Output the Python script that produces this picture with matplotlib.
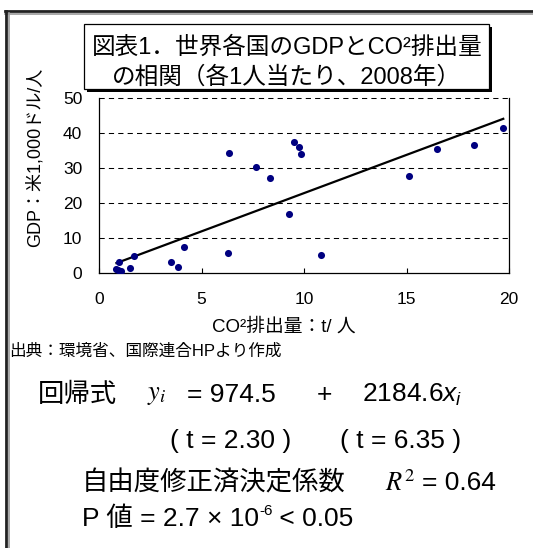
import matplotlib
matplotlib.use("Agg")
import matplotlib.pyplot as plt
from matplotlib.patches import Rectangle
from matplotlib.lines import Line2D

# CO2 emission (t per person) and GDP (1,000 USD per person)
co2 = [0.85, 0.98, 1.06, 0.95, 1.51, 1.69, 3.52, 3.84, 4.17, 6.30, 6.36,
       7.65, 8.35, 9.26, 9.52, 9.78, 9.85, 10.82, 15.13, 16.50, 18.31, 19.72]
gdp = [1.2, 3.0, 0.7, 0.8, 1.3, 4.95, 3.05, 1.7, 7.4, 5.6, 34.3,
       30.4, 27.1, 16.8, 37.5, 35.9, 34.0, 5.2, 27.7, 35.3, 36.6, 41.4]

# regression y = 974.5 + 2184.6x (USD), plotted in 1,000 USD
INTERCEPT = 0.9745
SLOPE = 2.1846

x_ticks = [0, 5, 10, 15, 20]
y_ticks = [0, 10, 20, 30, 40, 50]

W, H = 533, 548
FONTS = ["Liberation Sans", "Noto Sans CJK JP", "DejaVu Sans"]
plt.rcParams["font.family"] = FONTS
plt.rcParams["mathtext.fontset"] = "custom"
plt.rcParams["mathtext.rm"] = "Liberation Sans"
plt.rcParams["mathtext.it"] = "Liberation Sans:italic"


def px(x, y):
    # pixel position (from top-left) -> figure fraction
    return x / W, 1 - y / H


fig = plt.figure(figsize=(W / 100, H / 100), dpi=100)
fig.patch.set_facecolor("white")
renderer = fig.canvas.get_renderer()


def text_run(x, y, parts):
    # draw pieces one after another on a line, starting at pixel x
    for s, size, dy in parts:
        t = fig.text(*px(x, y + dy), s, ha="left", va="center", fontsize=size)
        x = t.get_window_extent(renderer).x1


# outer frame (top and left only)
for (x0, y0), (x1, y1), c, lw in [((5, 11), (533, 11), "#222222", 2.0),
                                  ((5, 13.5), (533, 13.5), "#9a9a9a", 1.2),
                                  ((6, 11), (6, 548), "#222222", 2.0),
                                  ((8.5, 13), (8.5, 548), "#9a9a9a", 1.2)]:
    fig.add_artist(Line2D([x0 / W, x1 / W], [1 - y0 / H, 1 - y1 / H],
                          color=c, lw=lw, transform=fig.transFigure))

# plot area
left, top, right, bottom = 99, 98, 509, 273
ax = fig.add_axes([left / W, 1 - bottom / H, (right - left) / W, (bottom - top) / H])
ax.set_xlim(0, 20)
ax.set_ylim(0, 50)
ax.set_xticks(x_ticks)
ax.set_yticks(y_ticks)
ax.tick_params(axis="x", direction="in", length=3.6, width=0.8, pad=14, labelsize=12.5)
ax.tick_params(axis="y", length=0, pad=12, labelsize=12.5)
ax.spines["top"].set_visible(False)
for s in ["left", "right", "bottom"]:
    ax.spines[s].set_linewidth(0.9)
for yv in y_ticks[1:]:
    ax.axhline(yv, color="black", lw=0.75, dashes=(5, 4), zorder=1, clip_on=False)

ax.scatter(co2, gdp, s=26, color="#000080", zorder=3, linewidths=0)
line_x = [min(co2), max(co2)]
line_y = [INTERCEPT + SLOPE * v for v in line_x]
ax.plot(line_x, line_y, color="black", lw=1.6, zorder=2)

# axis labels
fig.text(*px(35, 157), "GDP：米1,000ドル/人", rotation=90, ha="center", va="center",
         fontsize=13)
fig.text(*px(284, 327), "CO²排出量：t/ 人", ha="center", va="center", fontsize=13.5)
fig.text(*px(9, 351), "出典：環境省、国際連合HPより作成", ha="left", va="center",
         fontsize=12)

# title box with shadow
bx0, by0, bx1, by1 = 84, 24, 489, 89
fig.add_artist(Rectangle(px(bx0 + 3, by1 + 3), (bx1 - bx0) / W, (by1 - by0) / H,
                         transform=fig.transFigure, facecolor="black", edgecolor="none"))
fig.add_artist(Rectangle(px(bx0, by1), (bx1 - bx0) / W, (by1 - by0) / H,
                         transform=fig.transFigure, facecolor="white",
                         edgecolor="black", lw=0.9))
fig.text(*px(287, 48), "図表1．世界各国のGDPとCO²排出量", ha="center", va="center",
         fontsize=17)
fig.text(*px(287, 77), "の相関（各1人当たり、2008年）", ha="center", va="center",
         fontsize=17)

# regression results
fs = 19
fig.text(*px(38, 395), "回帰式", ha="left", va="center", fontsize=fs)
fig.text(*px(147, 395), "$y_i$", ha="left", va="center", fontsize=fs, math_fontfamily="stix")
fig.text(*px(187, 395), "= 974.5", ha="left", va="center", fontsize=fs)
fig.text(*px(317, 395), "+", ha="left", va="center", fontsize=fs)
fig.text(*px(362, 395), "2184.6$x_i$", ha="left", va="center", fontsize=fs)

fig.text(*px(170, 441), "( t = 2.30 )", ha="left", va="center", fontsize=fs)
fig.text(*px(340, 441), "( t = 6.35 )", ha="left", va="center", fontsize=fs)

fig.text(*px(82, 483), "自由度修正済決定係数", ha="left", va="center", fontsize=fs)
fig.text(*px(385, 483), "$R^2$", ha="left", va="center", fontsize=fs, math_fontfamily="stix")
fig.text(*px(422, 483), "= 0.64", ha="left", va="center", fontsize=fs)

text_run(82, 519, [("P 値 = 2.7 × 10", fs, 0),
                   ("-6", 11, -8),
                   (" < 0.05", fs, 0)])

fig.savefig("out.png", dpi=100)
